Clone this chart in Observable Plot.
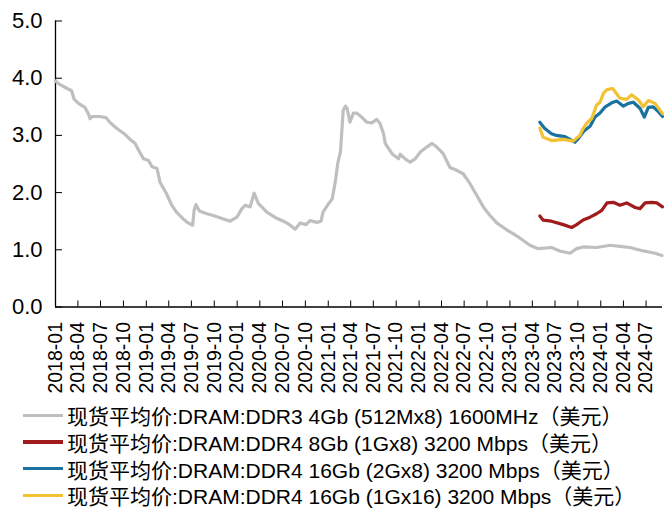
<!DOCTYPE html>
<html>
<head>
<meta charset="utf-8">
<script src="https://cdn.jsdelivr.net/npm/d3@7"></script>
<script src="https://cdn.jsdelivr.net/npm/@observablehq/plot@0.6"></script>
<style>
  html, body { margin: 0; padding: 0; background: #fff; }
  #chart svg { display: block; }
  .legend { font-family: "Liberation Sans", Arial, "Noto Sans CJK SC", sans-serif; font-size: 21px; color: #000; padding-top: 2px; }
  .row { display: flex; align-items: center; height: 26.7px; white-space: nowrap; }
  .swatch { width: 40px; height: 3.5px; margin-left: 23px; margin-right: 4px; }
</style>
</head>
<body>
<div id="chart"></div>
<div class="legend" id="legend"></div>
<script>
// Tick labels
const xTickLabels = ["2018-01","2018-04","2018-07","2018-10","2019-01","2019-04","2019-07","2019-10",
  "2020-01","2020-04","2020-07","2020-10","2021-01","2021-04","2021-07","2021-10",
  "2022-01","2022-04","2022-07","2022-10","2023-01","2023-04","2023-07","2023-10",
  "2024-01","2024-04","2024-07"];
const yTicks = [0, 1, 2, 3, 4, 5];

// Series names
const seriesNames = [
  "现货平均价:DRAM:DDR3 4Gb (512Mx8) 1600MHz（美元）",
  "现货平均价:DRAM:DDR4 8Gb (1Gx8) 3200 Mbps（美元）",
  "现货平均价:DRAM:DDR4 16Gb (2Gx8) 3200 Mbps（美元）",
  "现货平均价:DRAM:DDR4 16Gb (1Gx16) 3200 Mbps（美元）"
];
const seriesColors = ["#BFBFBF", "#A01C1C", "#1A72A0", "#F2C232"];

// DDR3 4Gb
const ddr3Dates = ["2018-01-01","2018-01-14","2018-02-17","2018-03-07","2018-03-16","2018-04-03","2018-04-29","2018-05-13","2018-05-20","2018-05-27",
  "2018-06-29","2018-07-23","2018-08-09","2018-09-05","2018-10-04","2018-10-28","2018-11-17","2018-12-01","2018-12-21","2019-01-10",
  "2019-01-24","2019-02-13","2019-02-25","2019-03-23","2019-04-13","2019-05-02","2019-05-29","2019-06-18","2019-07-06","2019-07-12",
  "2019-07-19","2019-08-02","2019-09-01","2019-09-27","2019-11-07","2019-12-04","2019-12-31","2020-01-20","2020-02-03","2020-02-22",
  "2020-03-09","2020-03-26","2020-04-29","2020-06-08","2020-07-05","2020-08-01","2020-08-21","2020-09-10","2020-10-04","2020-10-20",
  "2020-11-16","2020-12-03","2020-12-11","2021-01-03","2021-01-17","2021-01-30","2021-02-08","2021-02-19","2021-03-02","2021-03-11",
  "2021-03-18","2021-03-29","2021-04-12","2021-04-25","2021-05-15","2021-06-05","2021-06-25","2021-07-15","2021-07-28","2021-08-11",
  "2021-08-18","2021-09-14","2021-10-10","2021-10-17","2021-11-06","2021-11-26","2021-12-16","2022-01-06","2022-02-02","2022-02-22",
  "2022-03-12","2022-04-08","2022-05-05","2022-06-01","2022-06-27","2022-07-24","2022-08-21","2022-09-16","2022-10-13","2022-11-09",
  "2022-12-19","2023-02-05","2023-03-22","2023-04-25","2023-06-17","2023-07-20","2023-08-30","2023-09-26","2023-10-22","2023-12-15",
  "2024-02-08","2024-03-18","2024-04-27","2024-06-20","2024-08-06","2024-09-03"];
const ddr3Values = [3.95,3.90,3.82,3.78,3.64,3.56,3.49,3.38,3.29,3.33,
  3.33,3.31,3.22,3.12,3.03,2.93,2.86,2.74,2.59,2.56,
  2.45,2.42,2.18,1.98,1.78,1.66,1.54,1.47,1.43,1.69,
  1.79,1.68,1.63,1.60,1.54,1.50,1.57,1.72,1.78,1.75,
  1.99,1.81,1.66,1.55,1.50,1.43,1.36,1.47,1.44,1.51,
  1.48,1.50,1.66,1.81,1.89,2.21,2.51,2.71,3.44,3.51,
  3.47,3.23,3.39,3.39,3.32,3.23,3.22,3.28,3.21,3.03,
  2.86,2.68,2.59,2.67,2.59,2.53,2.59,2.71,2.80,2.86,
  2.80,2.68,2.44,2.39,2.33,2.16,1.95,1.75,1.60,1.47,
  1.35,1.22,1.08,1.02,1.04,0.98,0.94,1.02,1.05,1.04,
  1.08,1.06,1.04,0.98,0.94,0.90];

// DDR4 8Gb (1Gx8)
const ddr4_8Dates = ["2023-05-01","2023-05-14","2023-06-17","2023-08-03","2023-09-06","2023-09-26","2023-10-22","2023-11-19","2023-12-15","2024-01-05",
  "2024-01-26","2024-02-20","2024-03-18","2024-04-14","2024-05-18","2024-06-07","2024-06-27","2024-07-24","2024-08-13","2024-09-05"];
const ddr4_8Values = [1.59,1.52,1.50,1.44,1.39,1.44,1.52,1.57,1.63,1.69,
  1.82,1.83,1.78,1.82,1.74,1.72,1.82,1.83,1.82,1.75];

// DDR4 16Gb (2Gx8)
const ddr4_16aDates = ["2023-05-01","2023-05-21","2023-06-17","2023-07-07","2023-08-10","2023-09-12","2023-09-19","2023-10-02","2023-10-22","2023-10-29",
  "2023-11-19","2023-12-09","2023-12-29","2024-01-19","2024-02-14","2024-03-05","2024-04-01","2024-04-21","2024-05-11","2024-06-07",
  "2024-06-24","2024-07-10","2024-07-30","2024-08-20","2024-09-05"];
const ddr4_16aValues = [3.23,3.12,3.03,3.00,2.98,2.90,2.88,2.94,3.06,3.09,
  3.16,3.32,3.39,3.50,3.57,3.60,3.51,3.56,3.58,3.47,
  3.32,3.49,3.50,3.41,3.33];

// DDR4 16Gb (1Gx16)
const ddr4_16bDates = ["2023-05-01","2023-05-14","2023-06-17","2023-08-03","2023-09-12","2023-10-09","2023-10-22","2023-11-05","2023-11-26","2023-12-15",
  "2023-12-29","2024-01-12","2024-01-26","2024-02-18","2024-03-18","2024-04-14","2024-05-04","2024-05-31","2024-06-20","2024-07-10",
  "2024-08-06","2024-09-05"];
const ddr4_16bValues = [3.13,2.97,2.91,2.93,2.90,3.00,3.12,3.21,3.30,3.53,
  3.58,3.74,3.80,3.82,3.65,3.63,3.71,3.62,3.50,3.61,
  3.56,3.38];

const parse = d3.utcParse("%Y-%m-%d");
const toRows = (dates, values) => dates.map((d, i) => ({date: parse(d), value: values[i]}));
const series = [
  toRows(ddr3Dates, ddr3Values),
  toRows(ddr4_8Dates, ddr4_8Values),
  toRows(ddr4_16aDates, ddr4_16aValues),
  toRows(ddr4_16bDates, ddr4_16bValues)
];
const xTicks = xTickLabels.map(s => d3.utcParse("%Y-%m")(s));
const fmt = d3.utcFormat("%Y-%m");
const xStart = parse("2018-01-01");
const xEnd = parse("2024-09-05");

const chart = Plot.plot({
  width: 669,
  height: 400,
  marginLeft: 55,
  marginRight: 7,
  marginTop: 20.5,
  marginBottom: 93.5,
  style: {fontFamily: '"Liberation Sans", Arial, sans-serif', color: "#000", background: "#fff"},
  x: {type: "utc", domain: [xStart, xEnd]},
  y: {domain: [0, 5]},
  marks: [
    Plot.axisY({ticks: yTicks, tickFormat: d => d.toFixed(1), tickSize: -7, tickPadding: 20, fontSize: 22, label: null, stroke: "#000"}),
    Plot.axisX({ticks: xTicks, tickFormat: fmt, tickRotate: -90, tickSize: -6, tickPadding: 21, fontSize: 19.5, label: null, stroke: "#000"}),
    Plot.ruleX([xStart], {stroke: "#000", strokeWidth: 1.3}),
    Plot.ruleY([0], {stroke: "#000", strokeWidth: 1.3}),
    ...series.map((rows, i) => Plot.line(rows, {x: "date", y: "value", stroke: seriesColors[i], strokeWidth: 3.2, curve: "linear"}))
  ]
});
document.getElementById("chart").appendChild(chart);

const legend = document.getElementById("legend");
seriesNames.forEach((name, i) => {
  const row = document.createElement("div");
  row.className = "row";
  const sw = document.createElement("span");
  sw.className = "swatch";
  sw.style.background = seriesColors[i];
  const tx = document.createElement("span");
  tx.textContent = name;
  row.appendChild(sw);
  row.appendChild(tx);
  legend.appendChild(row);
});
</script>
</body>
</html>
